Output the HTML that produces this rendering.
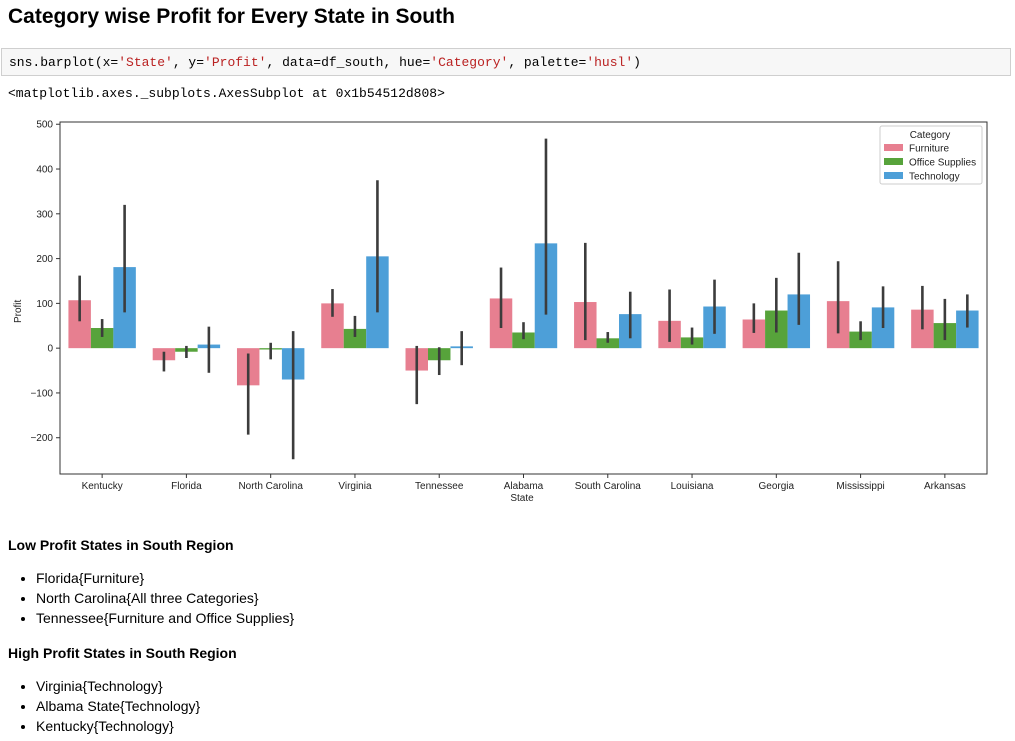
<!DOCTYPE html>
<html><head><meta charset="utf-8"><style>
body{margin:0;width:1015px;height:741px;background:#fff;font-family:"Liberation Sans",sans-serif;position:relative;overflow:hidden}
.abs{position:absolute}
h1{position:absolute;left:8px;top:5px;margin:0;font-size:21px;font-weight:bold;color:#000}
.code{position:absolute;left:1px;top:48px;width:1010px;height:28px;background:#f7f7f7;border:1px solid #cfcfcf;box-sizing:border-box;font-family:"Liberation Mono",monospace;font-size:13px;line-height:28px;padding-left:7px}
.s{color:#ba2121}
.out{position:absolute;left:8px;top:86px;font-family:"Liberation Mono",monospace;font-size:13px}
h4{position:absolute;left:8px;margin:0;font-size:14px;font-weight:bold}
ul{position:absolute;left:0;margin:0;padding-left:36px;font-size:14px;line-height:20px}
</style></head><body>
<h1>Category wise Profit for Every State in South</h1>
<div class="code">sns.barplot(x=<span class="s">'State'</span>, y=<span class="s">'Profit'</span>, data=df_south, hue=<span class="s">'Category'</span>, palette=<span class="s">'husl'</span>)</div>
<div class="out">&lt;matplotlib.axes._subplots.AxesSubplot at 0x1b54512d808&gt;</div>
<svg id="chart" class="abs" style="left:0;top:105px" width="1015" height="405"></svg>
<h4 style="top:537px">Low Profit States in South Region</h4>
<ul style="top:568px"><li>Florida{Furniture}</li><li>North Carolina{All three Categories}</li><li>Tennessee{Furniture and Office Supplies}</li></ul>
<h4 style="top:645px">High Profit States in South Region</h4>
<ul style="top:676px"><li>Virginia{Technology}</li><li>Albama State{Technology}</li><li>Kentucky{Technology}</li></ul>
<script>
const states=["Kentucky","Florida","North Carolina","Virginia","Tennessee","Alabama","South Carolina","Louisiana","Georgia","Mississippi","Arkansas"];
const seriesNames=["Furniture","Office Supplies","Technology"];
const furniture=[107,-27,-83,100,-50,111,103,61,64,105,86];
const office=[45,-8,-3,43,-27,35,22,24,84,37,56];
const tech=[181,8,-70,205,4,234,76,93,120,91,84];
const furnLo=[60,-52,-193,70,-125,45,18,14,34,33,42];
const furnHi=[162,-8,-12,132,5,180,235,131,100,194,139];
const offLo=[25,-22,-25,25,-60,20,12,8,35,18,18];
const offHi=[65,5,12,72,2,58,36,46,157,60,110];
const techLo=[80,-55,-248,80,-38,75,22,32,52,45,46];
const techHi=[320,48,38,375,38,468,126,153,213,138,120];
const yTicks=[500,400,300,200,100,0,-100,-200];
const colors=["#e77f90","#57a33b","#4d9fd8"];
const svg=document.getElementById('chart');const NS="http://www.w3.org/2000/svg";
const L=60,R=987,T=17,B=369,ymin=-281,ymax=505;
const Y=v=>T+(ymax-v)/(ymax-ymin)*(B-T);
const step=(R-L)/states.length;const X=i=>L+step*(i+0.5);
const bw=step*0.8/3;
function mk(t,a,txt){const e=document.createElementNS(NS,t);for(const k in a)e.setAttribute(k,a[k]);if(txt!==undefined)e.textContent=txt;svg.appendChild(e);return e;}
const vals=[furniture,office,tech],los=[furnLo,offLo,techLo],his=[furnHi,offHi,techHi];
vals.forEach((arr,s)=>arr.forEach((v,i)=>{
 const x=X(i)-1.5*bw+s*bw;
 const r=mk('rect',{x:x,y:Math.min(Y(v),Y(0)),width:bw,height:Math.abs(Y(v)-Y(0)),fill:colors[s]});
 
 
 const l=mk('line',{x1:x+bw/2,x2:x+bw/2,y1:Y(los[s][i]),y2:Y(his[s][i]),stroke:'#3c3c3c','stroke-width':2.6});
 
 
}));
const frame=mk('rect',{x:L,y:T,width:R-L,height:B-T,fill:'none',stroke:'#333','stroke-width':1});


yTicks.forEach(t=>{const y=Y(t);mk('line',{x1:L-4,x2:L,y1:y,y2:y,stroke:'#333'});
 const tx=mk('text',{x:L-7,y:y+3.5,'text-anchor':'end','font-size':10,fill:'#222'},t<0?'\u2212'+(-t):t);
 
 });
states.forEach((s,i)=>{const x=X(i);mk('line',{x1:x,x2:x,y1:B,y2:B+4,stroke:'#333'});
 const tx=mk('text',{x:x,y:B+15,'text-anchor':'middle','font-size':10,fill:'#222'},s);
 
 });
const yt=mk('text',{x:21,y:Y(100)+8,'text-anchor':'middle','font-size':10,fill:'#222',transform:`rotate(-90 21 ${Y(100)+8})`},'Profit');


const xt=mk('text',{x:522,y:B+27,'text-anchor':'middle','font-size':10,fill:'#222'},'State');


const lg=mk('rect',{x:880,y:21,width:102,height:58,fill:'#fff',stroke:'#ccc',rx:2});


mk('text',{x:930,y:33,'text-anchor':'middle','font-size':10,fill:'#222'},'Category');
seriesNames.forEach((n,s)=>{const y=43+s*14;
 const sw=mk('rect',{x:884,y:y-4,width:19,height:7,fill:colors[s]});
 
 
 const tx=mk('text',{x:909,y:y+3.5,'font-size':10,fill:'#222'},n);
 
 });
</script>
</body></html>
